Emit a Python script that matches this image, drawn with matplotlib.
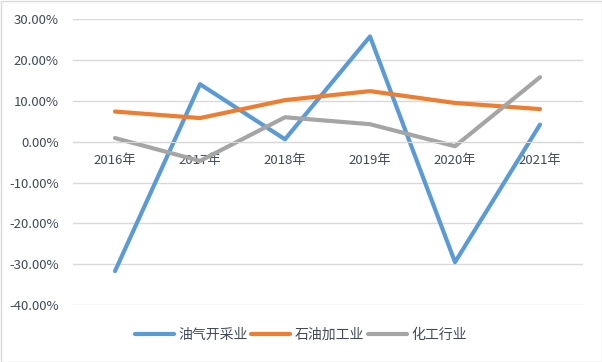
import matplotlib.pyplot as plt
from matplotlib.patches import Rectangle
from matplotlib.ticker import FuncFormatter

plt.rcParams['font.family'] = ['Noto Sans CJK SC', 'DejaVu Sans']

years = ['2016年', '2017年', '2018年', '2019年', '2020年', '2021年']
oil_gas = [-31.7, 14.1, 0.6, 25.8, -29.5, 4.2]
refining = [7.4, 5.8, 10.2, 12.4, 9.5, 8.0]
chemical = [0.9, -4.7, 6.0, 4.3, -1.1, 15.8]

series = [('油气开采业', oil_gas, '#5B9BD5'),
          ('石油加工业', refining, '#ED7D31'),
          ('化工行业', chemical, '#A5A5A5')]

W, H = 602, 362
fig = plt.figure(figsize=(W / 100, H / 100), dpi=100)
ax = fig.add_axes([72.5 / W, 1 - 305 / H, 510 / W, (305 - 19.3) / H])

x = list(range(len(years)))
for name, vals, col in series:
    ax.plot(x, vals, color=col, lw=3, label=name, solid_capstyle='round')

ax.set_xlim(-0.5, len(years) - 0.5)
ax.set_ylim(-40, 30)
ax.set_yticks(range(-40, 31, 10))
ax.yaxis.set_major_formatter(FuncFormatter(lambda v, p: '%.2f%%' % v))
ax.grid(axis='y', color='#D9D9D9', lw=1)
ax.set_axisbelow(True)

for s in ['top', 'left', 'right']:
    ax.spines[s].set_visible(False)
ax.spines['bottom'].set_position(('data', 0))
ax.spines['bottom'].set_color('#D9D9D9')
ax.set_xticks(x)
ax.set_xticklabels(years)
ax.tick_params(axis='x', length=0, pad=9, labelsize=9.5, labelcolor='#404A5A')
ax.tick_params(axis='y', length=0, pad=10, labelsize=9.5, labelcolor='#404A5A')

fig.legend(loc='center', bbox_to_anchor=(0.5, 1 - 335 / H), ncol=3, frameon=False,
           fontsize=10, handlelength=2.8, handletextpad=0.35, columnspacing=0.25,
           labelcolor='#404A5A')

fig.patches.append(Rectangle((0.5 / W, 0.5 / H), 1 - 1 / W, 1 - 1 / H, transform=fig.transFigure,
                             fill=False, edgecolor='#D9D9D9', lw=1))

fig.savefig('out.png', dpi=100)
